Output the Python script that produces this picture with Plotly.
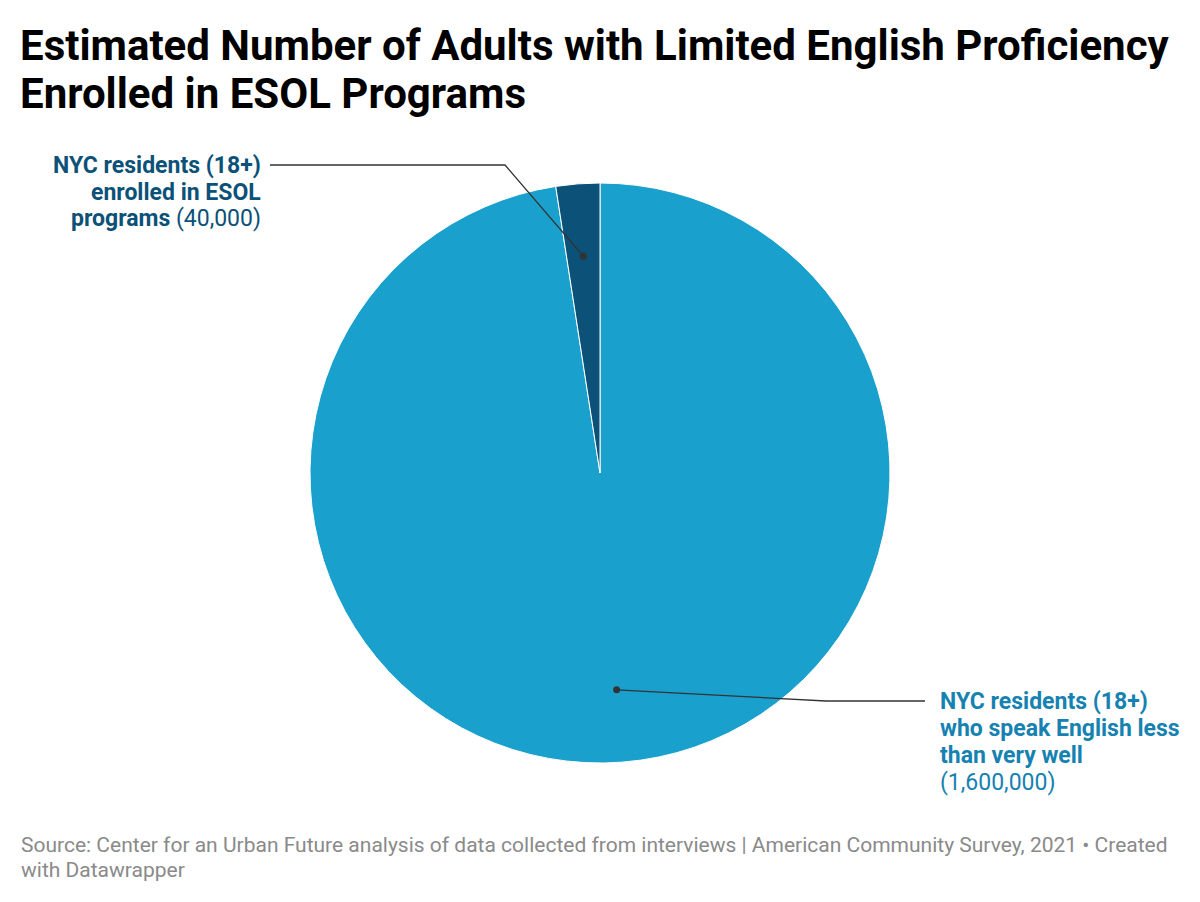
import numpy as np
import plotly.graph_objects as go

# slice data (clockwise from 12 o'clock)
labels = ["NYC residents (18+) who speak English less than very well",
          "NYC residents (18+) enrolled in ESOL programs"]
values = [1600000, 40000]
colors = ["#1aa0cd", "#0b5178"]
text_colors = ["#1582b1", "#0b5178"]
label_lines = [
    ["<b>NYC residents (18+)</b>", "<b>who speak English less</b>", "<b>than very well</b>", "(1,600,000)"],
    ["<b>NYC residents (18+)</b>", "<b>enrolled in ESOL</b>", "<b>programs</b> (40,000)"],
]
title_lines = ["<b>Estimated Number of Adults with Limited English Proficiency</b>",
               "<b>Enrolled in ESOL Programs</b>"]
source_lines = ["Source: Center for an Urban Future analysis of data collected from interviews | American Community Survey, 2021 • Created",
                "with Datawrapper"]

W, H = 1200, 902
OFF = 8  # page margin of the browser
cx, cy, R = 600, 473, 290  # pie centre / radius in px


def px(x, y):
    return (x - OFF) / W, 1 - (y - OFF) / H


fig = go.Figure()
x0, y0 = px(cx - R, cy + R)
x1, y1 = px(cx + R, cy - R)
fig.add_trace(go.Pie(
    labels=labels, values=values, sort=False, direction="clockwise",
    rotation=0, marker=dict(colors=colors, line=dict(color="white", width=1)),
    textinfo="none", hoverinfo="label+value", showlegend=False,
    domain=dict(x=[x0, x1], y=[y0, y1]),
))

# callout dots at the middle of each slice
tot = sum(values)
start = 0.0
dots = []
for v in values:
    mid = start + v / tot / 2
    ang = mid * 2 * np.pi
    dots.append((cx + np.sin(ang) * R * 0.75, cy - np.cos(ang) * R * 0.75))
    start += v / tot

shapes = []
for (x, y) in dots:
    a0, b0 = px(x - 3.5, y + 3.5)
    a1, b1 = px(x + 3.5, y - 3.5)
    shapes.append(dict(type="circle", xref="paper", yref="paper", x0=a0, x1=a1, y0=b0, y1=b1,
                       fillcolor="#333333", line=dict(width=0)))

# leader lines
paths = [
    [dots[0], (826, 701), (925, 701)],
    [dots[1], (505, 165), (270, 165)],
]
for pts in paths:
    p = " L ".join(f"{px(x, y)[0]:.5f},{px(x, y)[1]:.5f}" for x, y in pts)
    shapes.append(dict(type="path", xref="paper", yref="paper", path="M " + p,
                       line=dict(color="#333333", width=1.3)))

annotations = []


def add_lines(lines, x, y_first, step, anchor, size, color):
    for i, t in enumerate(lines):
        ax, ay = px(x, y_first + i * step)
        annotations.append(dict(text=t, x=ax, y=ay, xref="paper", yref="paper",
                                xanchor=anchor, yanchor="middle", align=anchor, showarrow=False,
                                font=dict(family="Roboto", size=size, color=color)))


add_lines(title_lines, 18, 46, 47, "left", 42, "#000000")
add_lines(label_lines[1], 263, 165, 27, "right", 23, text_colors[1])
add_lines(label_lines[0], 938, 701, 27.3, "left", 23, text_colors[0])
add_lines(source_lines, 19, 845, 25, "left", 21, "#8a8a8a")

fig.update_layout(
    width=W, height=H,
    margin=dict(l=0, r=0, t=0, b=0),
    paper_bgcolor="white", plot_bgcolor="white",
    shapes=shapes, annotations=annotations,
)

fig.write_html("out.html")
